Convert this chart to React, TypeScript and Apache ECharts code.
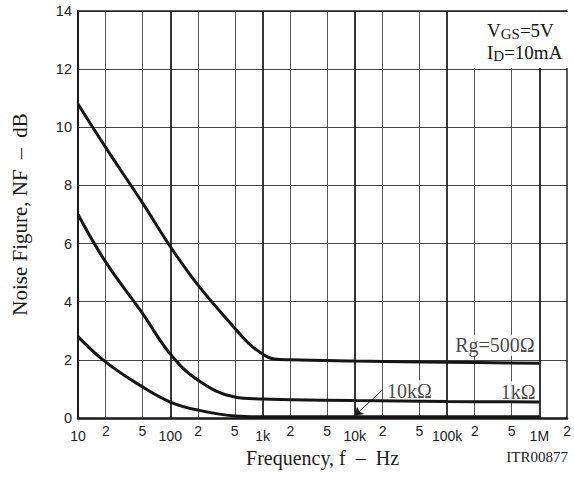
import React, { useEffect, useRef } from "react";
import * as echarts from "echarts";

// Rg = 500 ohm curve
const freq500 = [10, 20, 50, 100, 200, 500, 700, 1000, 1300, 2000, 10000, 100000, 1000000];
const nf500 = [10.8, 9.3, 7.4, 5.9, 4.57, 3.09, 2.58, 2.2, 2.04, 2.0, 1.96, 1.92, 1.88];
// Rg = 1k ohm curve
const freq1k = [10, 20, 50, 100, 200, 500, 1000, 2000, 10000, 100000, 1000000];
const nf1k = [7.0, 5.36, 3.6, 2.2, 1.3, 0.72, 0.65, 0.63, 0.6, 0.57, 0.55];
// Rg = 10k ohm curve
const freq10k = [10, 20, 50, 100, 200, 500, 1000, 10000, 1000000];
const nf10k = [2.8, 1.92, 1.07, 0.55, 0.27, 0.07, 0.04, 0.04, 0.04];

const xTicks = [10, 20, 50, 100, 200, 500, 1e3, 2e3, 5e3, 1e4, 2e4, 5e4, 1e5, 2e5, 5e5, 1e6, 2e6];
const xTickLabels = ["10", "2", "5", "100", "2", "5", "1k", "2", "5", "10k", "2", "5", "100k", "2", "5", "1M", "2"];
const yMin = 0;
const yMax = 14;
const yStep = 2;

const curveLabels = ["Rg=500Ω", "1kΩ", "10kΩ"];
const curveLabelFreq = [3.3e5, 5.9e5, 3.9e4];
const curveLabelNF = [2.5, 0.9, 0.94];
const arrowFreq = [1.95e4, 1e4];
const arrowNF = [0.94, 0.08];

const SERIF = '"Liberation Serif", "Times New Roman", serif';
const SANS = '"Liberation Sans", Arial, sans-serif';

const lg = (v: number) => Math.log10(v);

export default function App() {
  const ref = useRef<HTMLDivElement>(null);
  useEffect(() => {
    if (!ref.current) return;
    const chart = echarts.init(ref.current, null, { renderer: "svg" });
    const tickLogs = xTicks.map(lg);
    const curveStyle = { color: "#151515", width: 3 };
    const mkCurve = (name: string, fs: number[], vs: number[]) => ({
      name,
      type: "line",
      data: fs.map((f, i) => [lg(f), vs[i]]),
      showSymbol: false,
      smooth: 0.4,
      lineStyle: curveStyle,
      z: 10,
      silent: true,
    });
    const gridLines: any[] = xTicks
      .map((f, i) => ({ f, lab: xTickLabels[i] }))
      .filter((t, i) => i > 0)
      .map((t) => {
        const major = t.lab !== "2" && t.lab !== "5";
        const last = t.f === xTicks[xTicks.length - 1];
        return {
          xAxis: lg(t.f),
          lineStyle: {
            color: major || last ? "#222" : "#555",
            width: last ? 1.5 : major ? 1.8 : 1,
            type: "solid",
          },
        };
      });
    gridLines.push({ yAxis: yMax, lineStyle: { color: "#222", width: 1.5, type: "solid" } });

    const subRich = {
      n: { fontFamily: SERIF, fontSize: 19, fill: "#151515", color: "#151515" },
      s: { fontFamily: SERIF, fontSize: 15, fill: "#151515", color: "#151515", padding: [7, 0, 0, 0] },
    };

    chart.setOption({
      animation: false,
      grid: { left: 78, right: 5, top: 11, bottom: 59 },
      xAxis: {
        type: "value",
        min: lg(xTicks[0]),
        max: lg(xTicks[xTicks.length - 1]),
        name: "Frequency, f  –  Hz",
        nameLocation: "middle",
        nameGap: 22,
        nameTextStyle: { fontFamily: SERIF, fontSize: 20, color: "#1a1a1a" },
        axisLine: { show: true, lineStyle: { color: "#1a1a1a", width: 2.5 } },
        axisTick: { show: false },
        splitLine: { show: false },
        axisLabel: {
          customValues: tickLogs,
          showMinLabel: true,
          showMaxLabel: true,
          hideOverlap: false,
          margin: 6,
          color: "#222",
          fontFamily: SANS,
          fontSize: 14,
          formatter: (v: number) => {
            let idx = 0;
            let best = Infinity;
            tickLogs.forEach((t, i) => {
              const d = Math.abs(t - v);
              if (d < best) {
                best = d;
                idx = i;
              }
            });
            const lab = xTickLabels[idx];
            return lab === "2" || lab === "5" ? `{m|${lab}}` : `{d|${lab}}`;
          },
          rich: {
            m: { fontFamily: SANS, fontSize: 14, color: "#222" },
            d: { fontFamily: SANS, fontSize: 14, color: "#222", padding: [5, 0, 0, 0] },
          },
        },
      },
      yAxis: {
        type: "value",
        min: yMin,
        max: yMax,
        interval: yStep,
        name: "Noise Figure, NF  –  dB",
        nameLocation: "middle",
        nameGap: 48,
        nameTextStyle: { fontFamily: SERIF, fontSize: 21, color: "#1a1a1a" },
        axisLine: { show: true, lineStyle: { color: "#1a1a1a", width: 2 } },
        axisTick: { show: false },
        splitLine: { show: true, lineStyle: { color: "#444", width: 1 } },
        axisLabel: { margin: 6, color: "#222", fontFamily: SANS, fontSize: 14.5 },
      },
      series: [
        {
          name: "grid",
          type: "line",
          data: [],
          z: 1,
          silent: true,
          markLine: {
            z: 1,
            silent: true,
            symbol: ["none", "none"],
            label: { show: false },
            emphasis: { disabled: true },
            data: gridLines,
          },
        },
        mkCurve("500", freq500, nf500),
        mkCurve("1k", freq1k, nf1k),
        mkCurve("10k", freq10k, nf10k),
        {
          name: "labels",
          type: "scatter",
          z: 5,
          silent: true,
          symbolSize: 1,
          itemStyle: { color: "rgba(0,0,0,0)" },
          data: curveLabels.map((t, i) => [lg(curveLabelFreq[i]), curveLabelNF[i], t]),
          label: {
            show: true,
            position: "inside",
            formatter: (p: any) => p.data[2],
            fontFamily: SERIF,
            fontSize: 20,
            color: "#151515",
            backgroundColor: "#fff",
            padding: [1, 2, 0, 2],
          },
          markLine: {
            z: 6,
            silent: true,
            symbol: ["none", "arrow"],
            symbolSize: 8,
            label: { show: false },
            lineStyle: { color: "#151515", width: 1, type: "solid" },
            data: [
              [
                { coord: [lg(arrowFreq[0]), arrowNF[0]] },
                { coord: [lg(arrowFreq[1]), arrowNF[1]] },
              ],
            ],
          },
        },
      ],
      graphic: [
        {
          type: "rect",
          z: 100,
          shape: { x: 466, y: 12, width: 102, height: 56 },
          style: { fill: "#fff" },
        },
        {
          type: "text",
          z: 101,
          left: 487,
          top: 21,
          style: { text: "{n|V}{s|GS}{n|=5V}", rich: subRich },
        },
        {
          type: "text",
          z: 101,
          left: 487,
          top: 43,
          style: { text: "{n|I}{s|D}{n|=10mA}", rich: subRich },
        },
        {
          type: "text",
          z: 101,
          right: 6,
          top: 449,
          style: { text: "ITR00877", fontFamily: SERIF, fontSize: 15, fill: "#222" },
        },
      ],
    });
    return () => chart.dispose();
  }, []);
  return (
    <div
      ref={ref}
      style={{ position: "fixed", left: 0, top: 0, width: 574, height: 477, background: "#fff" }}
    />
  );
}
